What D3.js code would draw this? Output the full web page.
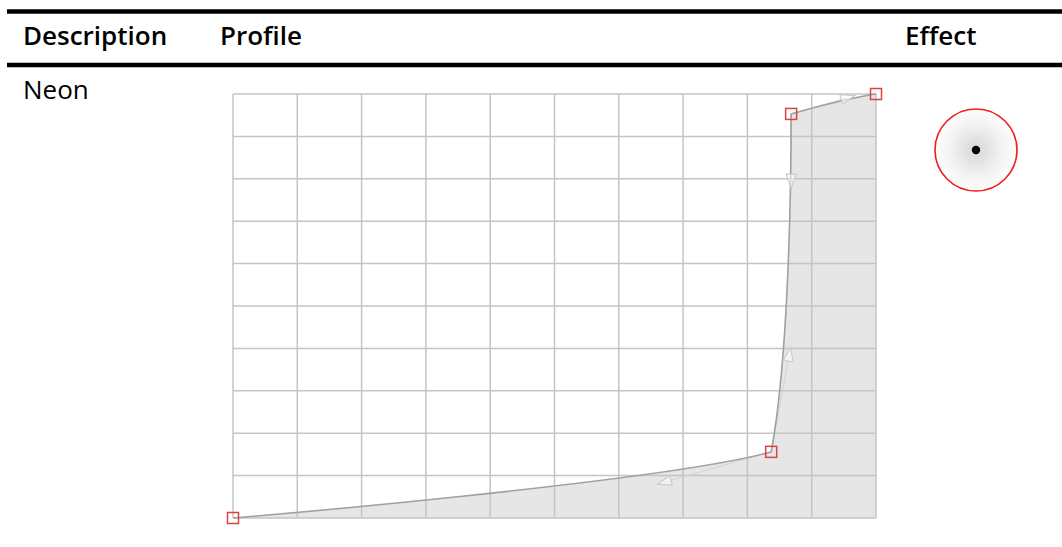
<!DOCTYPE html>
<html><head><meta charset="utf-8">
<script src="https://cdn.jsdelivr.net/npm/d3@7"></script>
<style>html,body{margin:0;padding:0;background:#fff;}svg{display:block;}</style>
</head><body>
<script>
// ---- data ----
const headers = ["Description", "Profile", "Effect"];
const rowLabels = ["Neon"];
const gridTicks = [0, 0.1, 0.2, 0.3, 0.4, 0.5, 0.6, 0.7, 0.8, 0.9, 1];
// curve nodes (input, output) in 0..1
const nodeX = [0, 0.837, 0.868, 1];
const nodeY = [0, 0.156, 0.953, 1];
// tangent handles (in = before node, out = after node)
const inX  = [0, 0.672, 0.868, 1];
const inY  = [0, 0.085, 0.797, 1];
const outX = [0, 0.865, 0.955, 1];
const outY = [0, 0.384, 0.991, 1];
const showIn  = [false, true, true, false];
const showOut = [false, true, true, false];

const W = 1062, H = 547;
const svg = d3.select("body").append("svg").attr("width", W).attr("height", H);
const font = "'Open Sans', sans-serif";

// header rules
svg.append("line").attr("x1", 7).attr("x2", W).attr("y1", 11.5).attr("y2", 11.5)
  .attr("stroke", "#000").attr("stroke-width", 4.5);
svg.append("line").attr("x1", 7).attr("x2", W).attr("y1", 65).attr("y2", 65)
  .attr("stroke", "#000").attr("stroke-width", 4.5);

const headerX = [23, 220, 905];
svg.selectAll("text.hdr").data(headers).join("text").attr("class", "hdr")
  .attr("x", (d, i) => headerX[i]).attr("y", 45)
  .attr("font-family", font).attr("font-weight", 600).attr("font-size", 26)
  .attr("fill", "#000").text(d => d);

svg.selectAll("text.row").data(rowLabels).join("text").attr("class", "row")
  .attr("x", 23).attr("y", 99)
  .attr("font-family", font).attr("font-size", 26).attr("fill", "#000").text(d => d);

// profile chart
const x = d3.scaleLinear().domain([0, 1]).range([233, 876]);
const y = d3.scaleLinear().domain([0, 1]).range([518, 94]);

function curvePath(p) {
  p.moveTo(x(nodeX[0]), y(nodeY[0]));
  for (let i = 1; i < nodeX.length; i++) {
    p.bezierCurveTo(x(outX[i - 1]), y(outY[i - 1]), x(inX[i]), y(inY[i]), x(nodeX[i]), y(nodeY[i]));
  }
  return p;
}

const fp = curvePath(d3.path());
fp.lineTo(x(1), y(0)); fp.lineTo(x(0), y(0)); fp.closePath();
svg.append("path").attr("d", fp.toString()).attr("fill", "#e6e6e6");

const g = svg.append("g");
g.selectAll("line.v").data(gridTicks).join("line").attr("class", "v")
  .attr("x1", d => x(d)).attr("x2", d => x(d)).attr("y1", y(0)).attr("y2", y(1))
  .attr("stroke", "#c4c4c4").attr("stroke-width", 1.5);
g.selectAll("line.h").data(gridTicks).join("line").attr("class", "h")
  .attr("y1", d => y(d)).attr("y2", d => y(d)).attr("x1", x(0)).attr("x2", x(1))
  .attr("stroke", "#c4c4c4").attr("stroke-width", 1.5);

// handle lines + arrows
const handles = [];
nodeX.forEach((nx, i) => {
  if (showIn[i]) handles.push({nx, ny: nodeY[i], hx: inX[i], hy: inY[i]});
  if (showOut[i]) handles.push({nx, ny: nodeY[i], hx: outX[i], hy: outY[i]});
});
svg.selectAll("line.hl").data(handles).join("line").attr("class", "hl")
  .attr("x1", d => x(d.nx)).attr("y1", d => y(d.ny))
  .attr("x2", d => x(d.hx)).attr("y2", d => y(d.hy))
  .attr("stroke", "#d4d4d4").attr("stroke-width", 1);

// curve
svg.append("path").attr("d", curvePath(d3.path()).toString())
  .attr("fill", "none").attr("stroke", "#a0a0a0").attr("stroke-width", 1.6);

svg.selectAll("path.arrow").data(handles).join("path").attr("class", "arrow")
  .attr("transform", d => {
    const px = x(d.hx), py = y(d.hy);
    const a = Math.atan2(py - y(d.ny), px - x(d.nx)) * 180 / Math.PI;
    return `translate(${px},${py}) rotate(${a})`;
  })
  .attr("d", "M8,0 L-6,-5 L-6,5 Z")
  .attr("fill", "rgba(255,255,255,0.55)").attr("stroke", "#cccccc").attr("stroke-width", 1.2);

// node squares
svg.selectAll("rect.node").data(nodeX).join("rect").attr("class", "node")
  .attr("x", (d, i) => x(d) - 5.5).attr("y", (d, i) => y(nodeY[i]) - 5.5)
  .attr("width", 11).attr("height", 11)
  .attr("fill", "none").attr("stroke", "#d9443f").attr("stroke-width", 1.5);

// effect preview
const defs = svg.append("defs");
const rg = defs.append("radialGradient").attr("id", "glow");
rg.append("stop").attr("offset", "0%").attr("stop-color", "#d6d6d6");
rg.append("stop").attr("offset", "65%").attr("stop-color", "#f3f3f3");
rg.append("stop").attr("offset", "100%").attr("stop-color", "#fdfdfd");
svg.append("circle").attr("cx", 976).attr("cy", 150).attr("r", 41)
  .attr("fill", "url(#glow)").attr("stroke", "#ee1c1c").attr("stroke-width", 1.6);
svg.append("circle").attr("cx", 976).attr("cy", 150).attr("r", 4.2).attr("fill", "#000");
</script>
</body></html>
